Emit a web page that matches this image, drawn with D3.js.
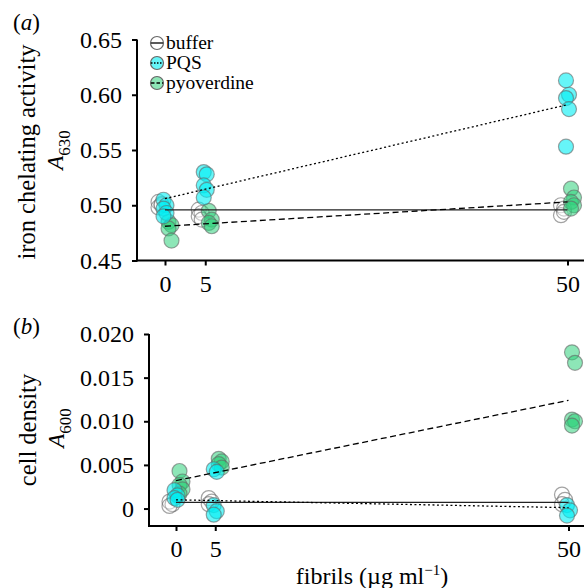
<!DOCTYPE html>
<html>
<head>
<meta charset="utf-8">
<style>
body { margin: 0; background: #fff; }
svg text { font-family: "Liberation Serif", "DejaVu Serif", serif; fill: #000; }
.axis path, .axis line { stroke: #000; stroke-width: 2; }
.axis text { font-size: 24px; }
</style>
</head>
<body>
<svg id="chart" width="584" height="588"></svg>
<script src="https://d3js.org/d3.v7.min.js"></script>
<script>
// fibril concentrations (µg/ml)
var doses = [0, 5, 50];
var seriesNames = ["buffer", "PQS", "pyoverdine"];

// (a) iron chelating activity, A630 – replicate values per dose
var ironBuffer = [[0.503, 0.500, 0.498, 0.501], [0.496, 0.493, 0.490, 0.487], [0.500, 0.497, 0.491, 0.494]];
var ironPQS    = [[0.505, 0.500, 0.497, 0.493, 0.490], [0.530, 0.528, 0.518, 0.514, 0.507], [0.613, 0.600, 0.597, 0.587, 0.553]];
var ironPyo    = [[0.485, 0.482, 0.479, 0.468], [0.495, 0.487, 0.484, 0.481], [0.515, 0.507, 0.503, 0.500, 0.497]];
// fitted lines, value at dose 0 and at dose 50
var ironFit = [[0.4958, 0.4958], [0.506, 0.591], [0.481, 0.503]];

// (b) cell density, A600
var cellBuffer = [[0.0008, 0.0005, 0.0003], [0.0012, 0.0008, 0.0005], [0.0016, 0.0010, 0.0005]];
var cellPQS    = [[0.0021, 0.0015, 0.0012, 0.0010], [0.0045, 0.0042, 0.0004, -0.0003, -0.0007], [0.0004, -0.0002, -0.0008]];
var cellPyo    = [[0.0043, 0.0031, 0.0027, 0.0022, 0.0017], [0.0057, 0.0054, 0.0051, 0.0047], [0.0179, 0.0167, 0.0102, 0.0100, 0.0095]];
var cellFit = [[0.0007, 0.0007], [0.0010, 0.0001], [0.0032, 0.0124]];

var ironTicks = [0.45, 0.50, 0.55, 0.60, 0.65];
var cellTicks = [0, 0.005, 0.010, 0.015, 0.020];

var fills = ["#ffffff", "#00eef4", "#2fd27c"];
var fillOp = [0.25, 0.6, 0.55];
var dashes = [null, "2,2.5", "6,3.5"];
var shift = [-5, 0, 5];
var drawOrder = [0, 2, 1];

var svg = d3.select("#chart");

function panel(cfg) {
  var x = d3.scaleLinear().domain([0, 50]).range(cfg.xr);
  var y = d3.scaleLinear().domain(cfg.yd).range(cfg.yr);
  var g = svg.append("g");

  g.append("g").attr("class", "axis")
    .attr("transform", "translate(" + cfg.ax + ",0)")
    .call(d3.axisLeft(y).tickValues(cfg.ticks).tickSize(5).tickPadding(10).tickFormat(cfg.fmt))
    .call(a => a.select(".domain").attr("d", "M0," + y(cfg.ticks[cfg.ticks.length - 1]) + "V" + (cfg.yr[0] + 1)));

  g.append("g").attr("class", "axis")
    .attr("transform", "translate(0," + cfg.yr[0] + ")")
    .call(d3.axisBottom(x).tickValues(doses).tickSize(5).tickPadding(9))
    .call(a => a.select(".domain").attr("d", "M" + cfg.ax + ",0H584"));

  // points
  drawOrder.forEach(function(s) {
    var pts = [];
    cfg.data[s].forEach(function(vals, di) {
      vals.forEach(function(v, i) {
        pts.push({dose: doses[di], v: v, j: (i % 2 ? 1.5 : -1.5)});
      });
    });
    g.append("g").selectAll("circle").data(pts).join("circle")
      .attr("cx", d => x(d.dose) + shift[s] + d.j)
      .attr("cy", d => y(d.v))
      .attr("r", 7.5)
      .attr("fill", fills[s])
      .attr("fill-opacity", fillOp[s])
      .attr("stroke", "#666")
      .attr("stroke-opacity", 0.6)
      .attr("stroke-width", 1.2);
  });

  // fitted lines
  cfg.fit.forEach(function(f, s) {
    g.append("line")
      .attr("x1", x(0)).attr("x2", x(50))
      .attr("y1", y(f[0])).attr("y2", y(f[1]))
      .attr("stroke", s === 0 ? "#222" : "#000")
      .attr("stroke-width", 1.3)
      .attr("stroke-dasharray", dashes[s]);
  });

  // y titles
  g.append("text")
    .attr("transform", "translate(" + cfg.titleX + "," + cfg.titleY + ") rotate(-90)")
    .attr("text-anchor", "middle").attr("font-size", 24.5)
    .text(cfg.title);
  var t2 = g.append("text")
    .attr("transform", "translate(" + cfg.subX + "," + cfg.subY + ") rotate(-90)")
    .attr("text-anchor", "middle").attr("font-size", 23);
  t2.append("tspan").attr("font-style", "italic").text("A");
  t2.append("tspan").attr("font-size", 17).attr("dy", 7).text(cfg.sub);

  g.append("text").attr("x", 13).attr("y", cfg.labelY).attr("font-size", 23)
    .html("(<tspan font-style='italic'>" + cfg.label + "</tspan>)");
  return {x: x, y: y};
}

panel({
  xr: [165, 567.5], yd: [0.45, 0.65], yr: [260.5, 39.5], ax: 137,
  ticks: ironTicks, fmt: d3.format(".2f"),
  data: [ironBuffer, ironPQS, ironPyo], fit: ironFit,
  title: "iron chelating activity", titleX: 35, titleY: 152,
  sub: "630", subX: 63, subY: 150,
  label: "a", labelY: 30
});

panel({
  xr: [176, 568.5], yd: [-0.002, 0.020], yr: [526, 334], ax: 149,
  ticks: cellTicks, fmt: d => d === 0 ? "0" : d3.format(".3f")(d),
  data: [cellBuffer, cellPQS, cellPyo], fit: cellFit,
  title: "cell density", titleX: 36, titleY: 430,
  sub: "600", subX: 64, subY: 428,
  label: "b", labelY: 334
});

// legend
var leg = svg.append("g").attr("transform", "translate(157,43)");
seriesNames.forEach(function(name, s) {
  var row = leg.append("g").attr("transform", "translate(0," + (s * 20) + ")");
  row.append("circle").attr("r", 6.5)
    .attr("fill", fills[s]).attr("fill-opacity", fillOp[s])
    .attr("stroke", "#666").attr("stroke-width", 1.2);
  row.append("line").attr("x1", -6).attr("x2", 6)
    .attr("stroke", "#000").attr("stroke-width", 1.3)
    .attr("stroke-dasharray", s === 1 ? "1.5,1.5" : s === 2 ? "3.5,2" : null);
  row.append("text").attr("x", 9).attr("y", 6).attr("font-size", 19.5).text(name);
});

// x title
var xt = svg.append("text").attr("x", 372).attr("y", 584)
  .attr("text-anchor", "middle").attr("font-size", 24);
xt.append("tspan").text("fibrils (µg ml");
xt.append("tspan").attr("font-size", 15).attr("dy", -9).text("−1");
xt.append("tspan").attr("dy", 9).text(")");
</script>
</body>
</html>
